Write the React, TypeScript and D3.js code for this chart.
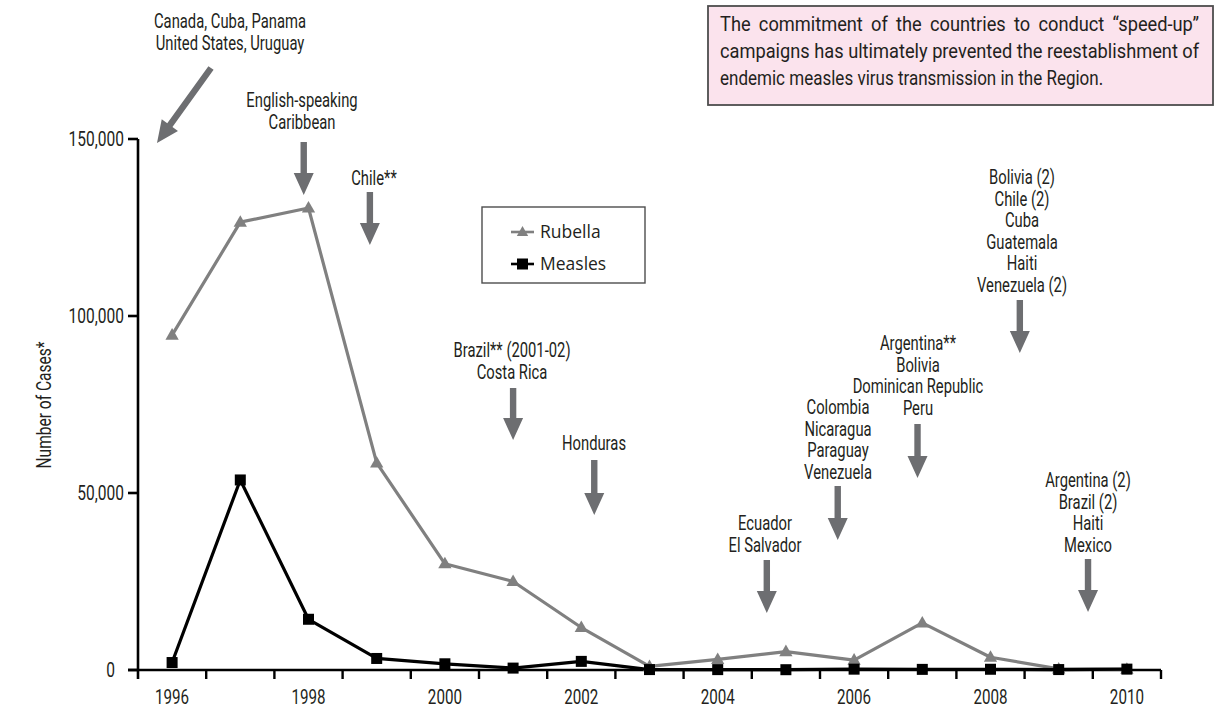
import React, { useLayoutEffect, useRef, useState } from "react";
import * as d3 from "d3";

const years = [1996, 1997, 1998, 1999, 2000, 2001, 2002, 2003, 2004, 2005, 2006, 2007, 2008, 2009, 2010];
const rubella = [94600, 126500, 130500, 58500, 30000, 25000, 12000, 1000, 3000, 5200, 2800, 13300, 3600, 300, 200];
const measles = [2109, 53683, 14332, 3259, 1754, 537, 2434, 119, 108, 85, 237, 176, 207, 123, 247];
const yTicks = [0, 50000, 100000, 150000];
const xLabelYears = [1996, 1998, 2000, 2002, 2004, 2006, 2008, 2010];

const noteCanada = ["Canada, Cuba, Panama", "United States, Uruguay"];
const noteCaribbean = ["English-speaking", "Caribbean"];
const noteChile = ["Chile**"];
const noteBrazil = ["Brazil** (2001-02)", "Costa Rica"];
const noteHonduras = ["Honduras"];
const noteEcuador = ["Ecuador", "El Salvador"];
const noteColombia = ["Colombia", "Nicaragua", "Paraguay", "Venezuela"];
const noteArgentina = ["Argentina**", "Bolivia", "Dominican Republic", "Peru"];
const noteBolivia = ["Bolivia (2)", "Chile (2)", "Cuba", "Guatemala", "Haiti", "Venezuela (2)"];
const noteMexico = ["Argentina (2)", "Brazil (2)", "Haiti", "Mexico"];
const boxLines = [
  "The commitment of the countries to conduct \u201cspeed-up\u201d",
  "campaigns has ultimately prevented the reestablishment of",
  "endemic measles virus transmission in the Region.",
];

const FONT = "Roboto, 'DejaVu Sans', sans-serif";
const TXT = "#231f20";
const ARROW = "#6d6e71";
const RUB = "#808080";
const SX = 0.74;

function CText({ x, y, children, anchor = "middle", size = 20, sx = SX, rotate = 0 }: any) {
  const t = `translate(${x},${y})` + (rotate ? ` rotate(${rotate})` : "") + ` scale(${sx},1)`;
  return (
    <text transform={t} textAnchor={anchor} fontSize={size} fontFamily={FONT} fill={TXT}>
      {children}
    </text>
  );
}

function Arrow({ x1, y1, x2, y2 }: any) {
  const dx = x2 - x1, dy = y2 - y1;
  const len = Math.sqrt(dx * dx + dy * dy);
  const ux = dx / len, uy = dy / len;
  const px = -uy, py = ux;
  const hw = 3.2, headW = 10, headL = 22;
  const bx = x2 - ux * headL, by = y2 - uy * headL;
  const pts = [
    [x1 + px * hw, y1 + py * hw],
    [bx + px * hw, by + py * hw],
    [bx + px * headW, by + py * headW],
    [x2, y2],
    [bx - px * headW, by - py * headW],
    [bx - px * hw, by - py * hw],
    [x1 - px * hw, y1 - py * hw],
  ];
  return <polygon points={pts.map((p) => p.join(",")).join(" ")} fill={ARROW} />;
}

function Note({ lines, x, y, lh = 21.5 }: any) {
  return (
    <g>
      {lines.map((l: string, i: number) => (
        <CText key={i} x={x} y={y + i * lh}>{l}</CText>
      ))}
    </g>
  );
}

function InfoBox() {
  const refs = useRef<(SVGTextElement | null)[]>([]);
  const [fit, setFit] = useState<{ s: number; s3: number; ws: number }>({ s: 0.8, s3: 0.8, ws: 0 });
  const left = 720, full = 479, last = 383;
  useLayoutEffect(() => {
    const els = refs.current;
    if (!els[0] || !els[1] || !els[2]) return;
    const w1 = els[0].getComputedTextLength();
    const w2 = els[1].getComputedTextLength();
    const w3 = els[2].getComputedTextLength();
    if (w2 > 0 && w3 > 0) {
      const s = full / w2;
      const spaces = (boxLines[0].match(/ /g) || []).length;
      const ws = Math.max(0, (full / s - w1) / spaces);
      setFit({ s, s3: last / w3, ws });
    }
  }, []);
  return (
    <g>
      <rect x={708} y={6} width={505} height={99} fill="#fbe3ed" stroke="#4d4d4d" strokeWidth={1.8} />
      {boxLines.map((l, i) => (
        <text key={i} ref={(el) => { refs.current[i] = el; }}
          transform={`translate(${left},${31 + i * 27}) scale(${i === 2 ? fit.s3 : fit.s},1)`}
          fontSize={21} fontFamily={FONT} fill={TXT}
          style={i === 0 && fit.ws ? { wordSpacing: `${fit.ws}px` } : undefined}>{l}</text>
      ))}
    </g>
  );
}

export default function App() {
  const x = d3.scaleBand<number>().domain(years).range([138, 1161]).padding(0);
  const xl = d3.scaleLinear().domain([1995.5, 2010.5]).range([138, 1161]);
  const y = d3.scaleLinear().domain([0, 150000]).range([670, 139]);
  const cx = (yr: number) => (x(yr) as number) + x.bandwidth() / 2;

  const line = d3.line<number>().x((_, i) => cx(years[i])).y((d) => y(d));

  const tri = (px: number, py: number, s = 7) =>
    `M${px},${py - s} L${px + s * 0.95},${py + s * 0.65} L${px - s * 0.95},${py + s * 0.65} Z`;

  const bounds = d3.range(years.length + 1).map((i) => 138 + i * x.bandwidth());

  return (
    <svg width={1220} height={711} style={{ position: "absolute", left: 0, top: 0, background: "#fff" }}>
      <rect x={0} y={0} width={1220} height={711} fill="#fff" />
      <InfoBox />

      {/* Axes */}
      <line x1={138} y1={139} x2={138} y2={679} stroke="#000" strokeWidth={2.6} />
      <line x1={128} y1={670} x2={1161} y2={670} stroke="#000" strokeWidth={2.6} />
      {yTicks.map((t) => (
        <g key={t}>
          <line x1={128} x2={138} y1={y(t)} y2={y(t)} stroke="#000" strokeWidth={2.6} />
          <CText x={t === 0 ? 115 : 124} y={y(t) + 7} anchor="end" size={21}>{d3.format(",")(t)}</CText>
        </g>
      ))}
      {bounds.slice(1).map((b, i) => (
        <line key={i} x1={b} x2={b} y1={670} y2={679} stroke="#000" strokeWidth={2.4} />
      ))}
      {xLabelYears.map((yr) => (
        <CText key={yr} x={cx(yr)} y={704} size={20.5}>{yr}</CText>
      ))}
      <CText x={51} y={405} rotate={-90} size={21}>Number of Cases*</CText>

      {/* Series */}
      <path d={line(rubella) || ""} fill="none" stroke={RUB} strokeWidth={3.2} strokeLinejoin="round" />
      {rubella.map((v, i) => (
        <path key={i} d={tri(cx(years[i]), y(v))} fill={RUB} />
      ))}
      <path d={line(measles) || ""} fill="none" stroke="#000" strokeWidth={3.2} strokeLinejoin="round" />
      {measles.map((v, i) => (
        <rect key={i} x={cx(years[i]) - 5.5} y={y(v) - 5.5} width={11} height={11} fill="#000" />
      ))}

      {/* Legend */}
      <rect x={482} y={207} width={163} height={76} fill="#fff" stroke="#4d4d4d" strokeWidth={1.4} />
      <line x1={511} x2={534} y1={232} y2={232} stroke={RUB} strokeWidth={2.6} />
      <path d={tri(522.5, 232, 6)} fill={RUB} />
      <text x={540} y={238} fontSize={17.5} fontFamily="'Open Sans', sans-serif" fill={TXT}>Rubella</text>
      <line x1={511} x2={534} y1={264} y2={264} stroke="#000" strokeWidth={2.6} />
      <rect x={517} y={258.5} width={11} height={11} fill="#000" />
      <text x={540} y={270} fontSize={17.5} fontFamily="'Open Sans', sans-serif" fill={TXT}>Measles</text>

      {/* Annotations */}
      <Note lines={noteCanada} x={230} y={28} />
      <Arrow x1={211} y1={68} x2={157} y2={143} />
      <Note lines={noteCaribbean} x={302} y={107} />
      <Arrow x1={xl(1997.93)} y1={142} x2={xl(1997.93)} y2={195} />
      <Note lines={noteChile} x={374} y={185} />
      <Arrow x1={xl(1998.9)} y1={192} x2={xl(1998.9)} y2={245} />
      <Note lines={noteBrazil} x={512} y={357} />
      <Arrow x1={xl(2001.0)} y1={388} x2={xl(2001.0)} y2={440} />
      <Note lines={noteHonduras} x={594} y={450} />
      <Arrow x1={xl(2002.19)} y1={460} x2={xl(2002.19)} y2={515} />
      <Note lines={noteEcuador} x={765} y={530} />
      <Arrow x1={xl(2004.72)} y1={560} x2={xl(2004.72)} y2={613} />
      <Note lines={noteColombia} x={838} y={414} />
      <Arrow x1={xl(2005.76)} y1={486} x2={xl(2005.76)} y2={540} />
      <Note lines={noteArgentina} x={918} y={350} />
      <Arrow x1={xl(2006.93)} y1={424} x2={xl(2006.93)} y2={478} />
      <Note lines={noteBolivia} x={1022} y={184} />
      <Arrow x1={xl(2008.43)} y1={300} x2={xl(2008.43)} y2={353} />
      <Note lines={noteMexico} x={1088} y={487} />
      <Arrow x1={xl(2009.43)} y1={559} x2={xl(2009.43)} y2={612} />
    </svg>
  );
}
